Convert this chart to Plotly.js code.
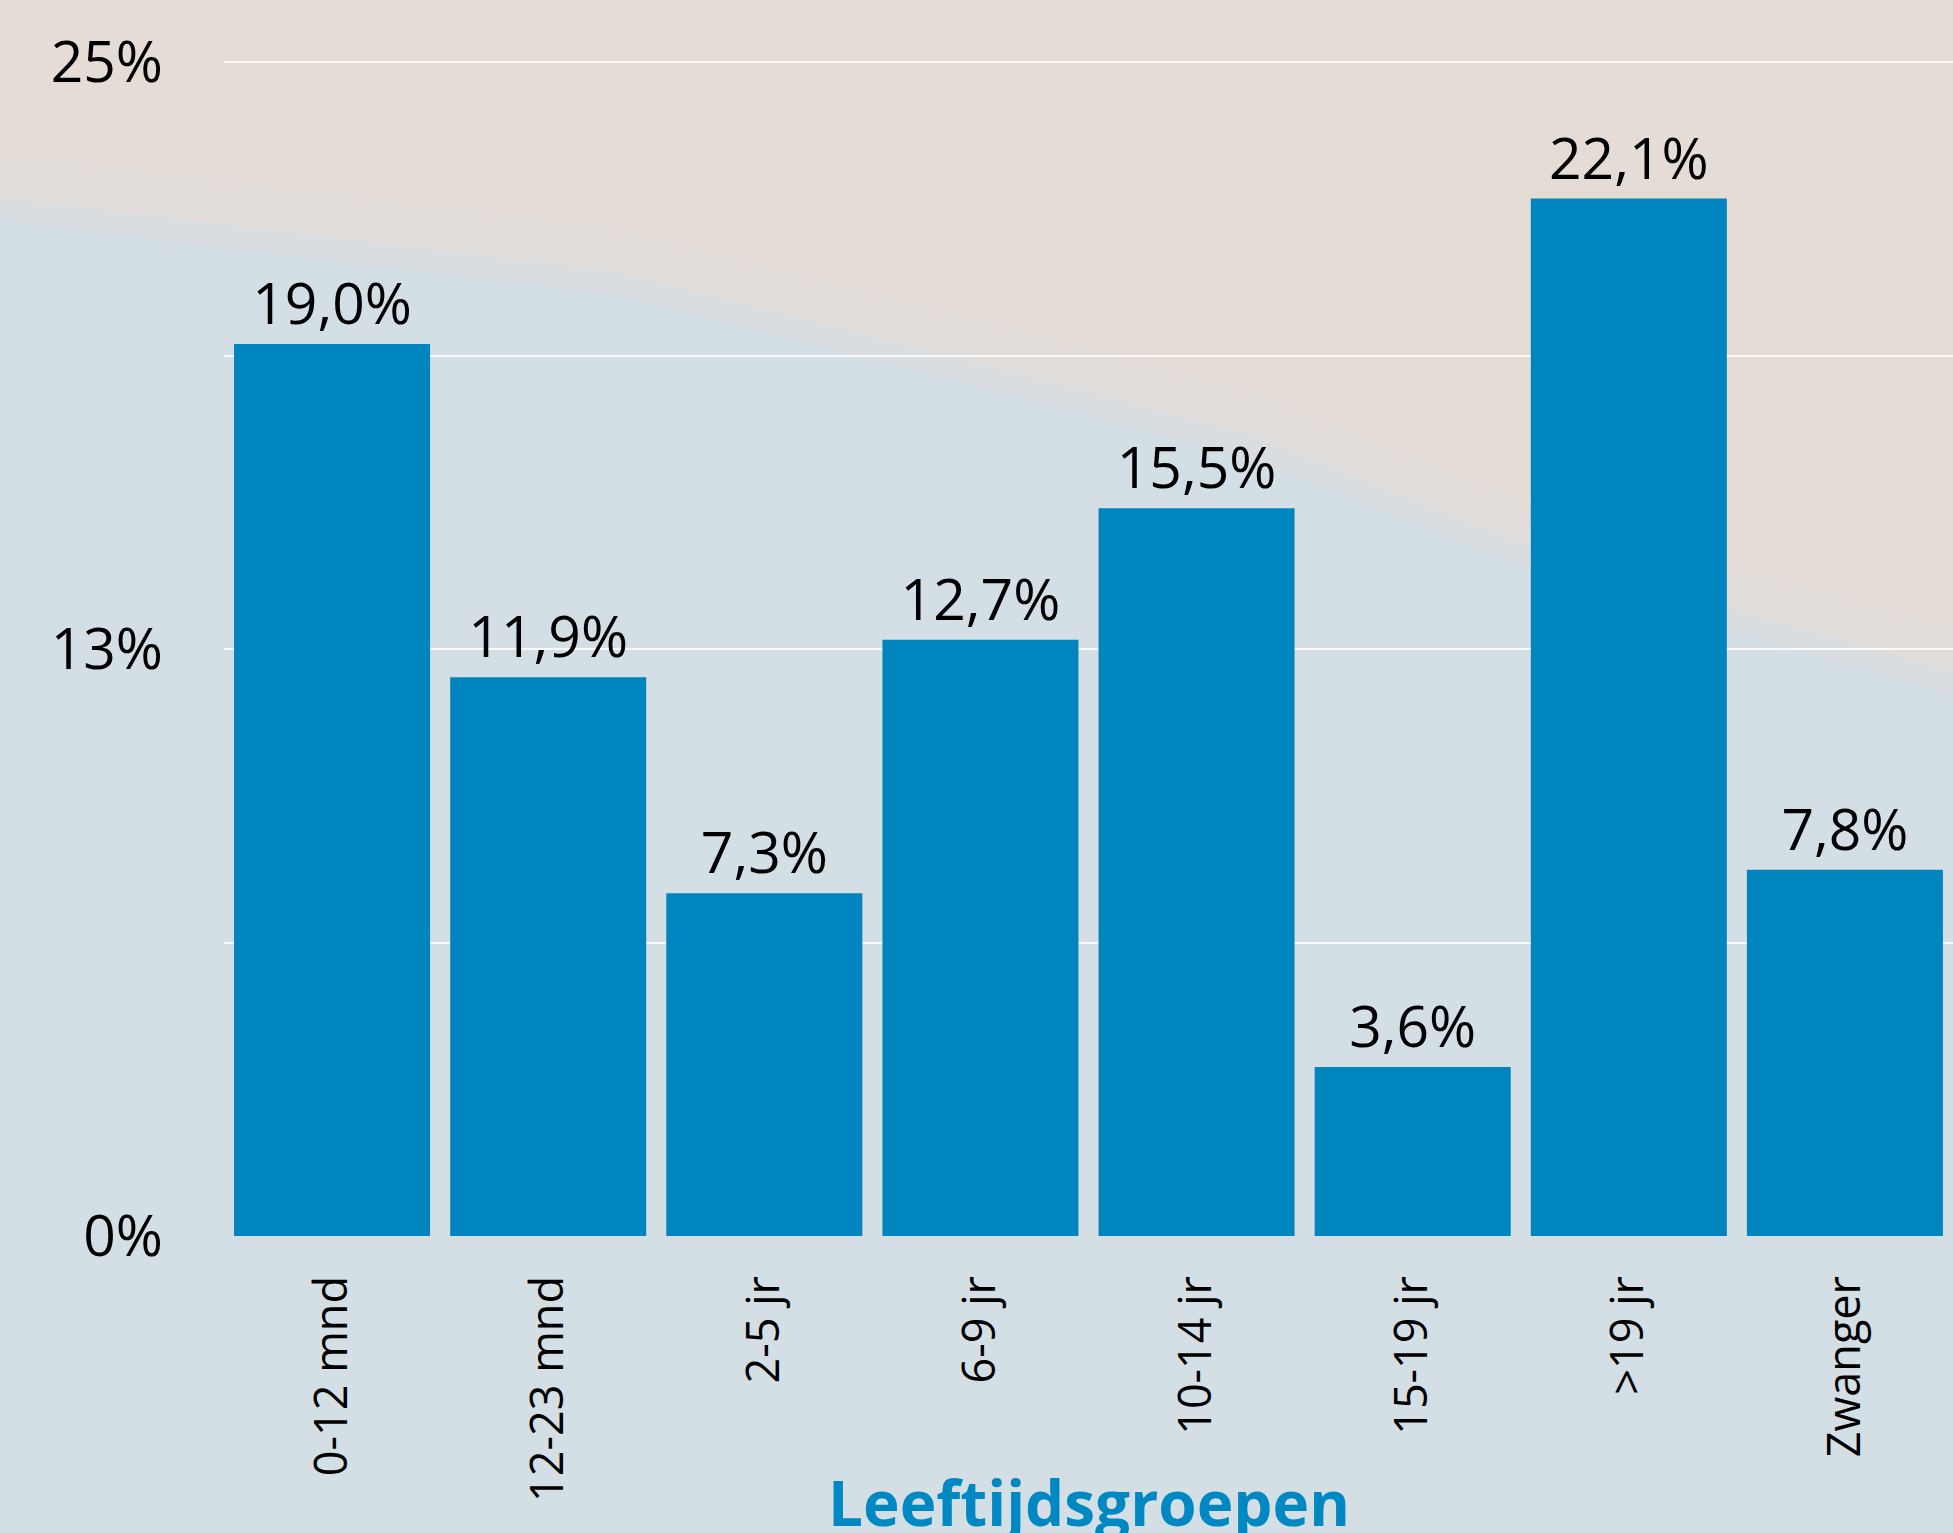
<!DOCTYPE html>
<html>
<head>
<meta charset="utf-8">
<script src="https://cdn.plot.ly/plotly-3.0.1.min.js"></script>
<style>html,body{margin:0;padding:0;background:#D4DEE5;}#chart{width:1953px;height:1533px;}</style>
</head>
<body>
<div id="chart"></div>
<script>
const categories = ["0-12 mnd", "12-23 mnd", "2-5 jr", "6-9 jr", "10-14 jr", "15-19 jr", ">19 jr", "Zwanger"];
const values = [19.0, 11.9, 7.3, 12.7, 15.5, 3.6, 22.1, 7.8];
const valueLabels = ["19,0%", "11,9%", "7,3%", "12,7%", "15,5%", "3,6%", "22,1%", "7,8%"];
const yTickVals = [0, 6.25, 12.5, 18.75, 25];
const yTickText = ["0%", "", "13%", "", "25%"];
const xTitle = "Leeftijdsgroepen";

const FONT = "Open Sans, Liberation Sans, sans-serif";
const BAR = "#0085BE";
const BEIGE = "rgb(229,220,214)";

// soft diagonal boundary between beige (top) and blue-grey (bottom) background
function bgPoly(dy, opacity) {
  const pts = [[-0.13, 1.06], [1.0, 1.06], [1.0, 0.50 + dy], [0.77, 0.597 + dy], [0.59, 0.704 + dy], [0.23, 0.84 + dy], [-0.13, 0.904 + dy]];
  let p = "M" + pts.map(q => q[0] + "," + q[1]).join(" L") + " Z";
  return {type: "path", xref: "paper", yref: "paper", path: p, fillcolor: BEIGE, opacity: opacity, line: {width: 0}, layer: "below"};
}
const shapes = [bgPoly(0.02, 1), bgPoly(0.0, 0.5), bgPoly(-0.02, 0.5), bgPoly(-0.04, 0.35)];

const trace = {
  type: "bar",
  x: categories,
  y: values,
  text: valueLabels,
  textposition: "outside",
  textfont: {family: FONT, size: 57, color: "#000000"},
  marker: {color: BAR, line: {width: 0}},
  cliponaxis: false,
  hoverinfo: "skip"
};

const layout = {
  width: 1953,
  height: 1533,
  margin: {l: 224, r: 0, t: 61, b: 297, pad: 0},
  paper_bgcolor: "rgb(212,222,229)",
  plot_bgcolor: "rgba(0,0,0,0)",
  bargap: 0.093,
  showlegend: false,
  font: {family: FONT, color: "#000000"},
  xaxis: {
    type: "category",
    range: [-0.5, 7.5],
    tickangle: -90,
    tickfont: {family: FONT, size: 45, color: "#000000"},
    showgrid: false,
    showline: false,
    zeroline: false,
    ticks: "",
    ticklabelstandoff: 30,
    fixedrange: true
  },
  yaxis: {
    range: [0, 25.03],
    tickvals: yTickVals,
    ticktext: yTickText,
    tickfont: {family: FONT, size: 57, color: "#000000"},
    showgrid: true,
    gridcolor: "rgba(255,255,255,0.85)",
    gridwidth: 2,
    zeroline: false,
    showline: false,
    ticks: "",
    ticklabelstandoff: 60,
    fixedrange: true
  },
  annotations: [{
    text: "<b>" + xTitle + "</b>",
    xref: "paper", yref: "paper",
    x: 0.5, y: -0.226,
    xanchor: "center", yanchor: "middle",
    showarrow: false,
    font: {family: FONT, size: 62, color: "#0088C2"}
  }],
  shapes: shapes
};

Plotly.newPlot("chart", [trace], layout, {staticPlot: true, displayModeBar: false});
</script>
</body>
</html>
